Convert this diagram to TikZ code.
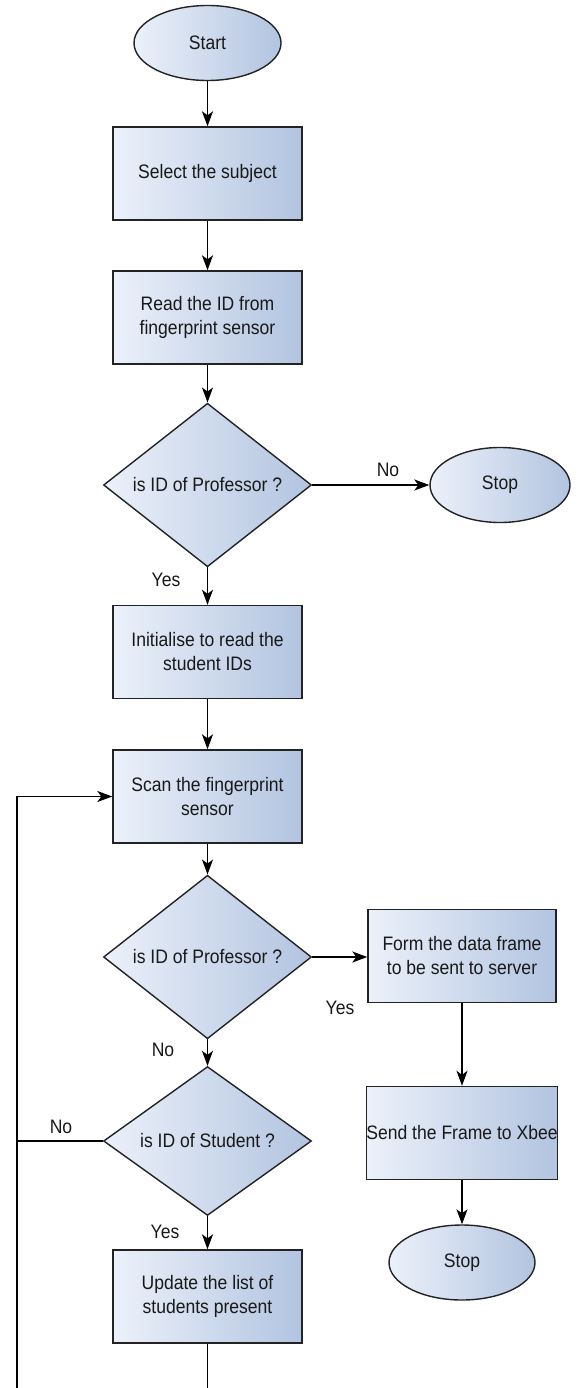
\documentclass[tikz,border=0pt]{standalone}
\usepackage{fontspec}
\setmainfont{Liberation Sans}[FakeStretch=0.9]
\usetikzlibrary{shapes.geometric,arrows.meta}
\definecolor{fillL}{RGB}{236,241,250}
\definecolor{fillR}{RGB}{178,196,224}
\definecolor{edge}{RGB}{35,35,35}
\definecolor{txt}{RGB}{25,25,25}
\tikzset{
  base/.style={draw=edge, line width=1.4pt, shading angle=60, left color=fillL, right color=fillR,
    text=txt, font=\fontsize{19.5}{24}\selectfont, align=center, inner sep=0pt},
  procbox/.style={base, rectangle, minimum width=189pt, minimum height=93pt},
  decision/.style={base, diamond, minimum width=208pt, minimum height=139pt},
  terminal/.style={base, ellipse, minimum width=147pt, minimum height=75pt},
  flow/.style={draw=black, line width=1.5pt, -{Stealth[length=15pt,width=11pt,inset=4pt]}},
  link/.style={draw=black, line width=1.5pt},
  lbl/.style={text=txt, font=\fontsize{19.5}{24}\selectfont, inner sep=0pt}
}
\begin{document}
\begin{tikzpicture}[x=1pt,y=-1pt]
\useasboundingbox (0,0) rectangle (581,1388);
% nodes
\node[terminal] (start) at (207.5,43) {Start};
\node[procbox] (sel) at (207.5,173.5) {Select the subject};
\node[procbox] (read) at (207.5,317.5) {Read the ID from\\fingerprint sensor};
\node[decision] (dec1) at (207.5,485) {is ID of Professor ?};
\node[terminal, minimum width=140pt] (stop1) at (500,485) {Stop};
\node[procbox] (init) at (207.5,652) {Initialise to read the\\student IDs};
\node[procbox] (scan) at (207.5,796.5) {Scan the fingerprint\\sensor};
\node[decision] (dec2) at (207.5,957) {is ID of Professor ?};
\node[procbox, minimum width=188pt] (form) at (462,956) {Form the data frame\\to be sent to server};
\node[decision] (dec3) at (207.5,1141) {is ID of Student ?};
\node[procbox, minimum width=189pt] (send) at (462,1133) {Send the Frame to Xbee};
\node[terminal, minimum width=146pt] (stop2) at (462,1262.5) {Stop};
\node[procbox] (upd) at (207.5,1296.5) {Update the list of\\students present};
% free ends
\coordinate (loopB) at (17,1388);
\coordinate (loopT) at (17,797);
\coordinate (updEnd) at (207.5,1388);
% labels
\node[lbl] (lno1) at (388,470) {No};
\node[lbl] (lyes1) at (166,580) {Yes};
\node[lbl] (lyes2) at (340,1008) {Yes};
\node[lbl] (lno2) at (163,1050) {No};
\node[lbl] (lno3) at (61,1127) {No};
\node[lbl] (lyes3) at (165,1232) {Yes};
% connectors
\draw[flow] (start) -- (sel);
\draw[flow] (sel) -- (read);
\draw[flow] (read) -- (dec1);
\draw[flow] (dec1.east) -- (stop1.west);
\draw[flow] (dec1.south) -- (init.north);
\draw[flow] (init) -- (scan);
\draw[flow] (scan) -- (dec2);
\draw[flow] (dec2.east) -- (dec2.east -| form.west);
\draw[flow] (form) -- (send);
\draw[flow] (send) -- (stop2);
\draw[flow] (dec2.south) -- (dec3.north);
\draw[flow] (dec3.south) -- (upd.north);
\draw[link] (dec3.west) -- (dec3.west -| loopT);
\draw[link] (upd.south) -- (updEnd);
\draw[flow] (loopB) |- (scan.west);
\end{tikzpicture}
\end{document}
